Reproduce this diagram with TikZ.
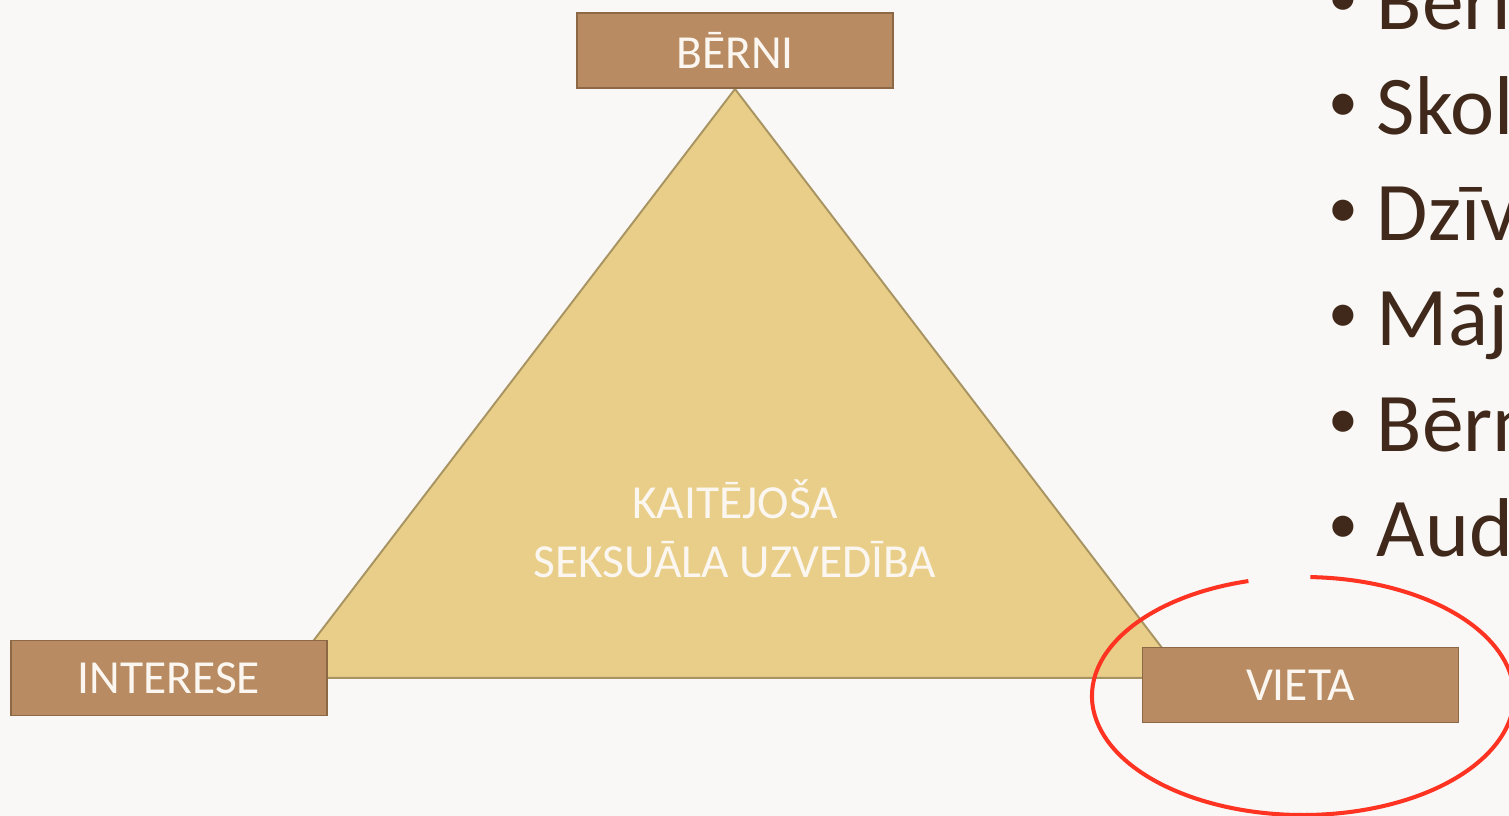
\documentclass[tikz,border=0pt]{standalone}
\usepackage{fontspec}
\setmainfont{Carlito}
\usetikzlibrary{calc,backgrounds}
\definecolor{pagebg}{RGB}{249,248,246}
\definecolor{boxbrown}{RGB}{184,139,98}
\definecolor{boxedge}{RGB}{140,104,68}
\definecolor{trifill}{RGB}{232,206,136}
\definecolor{triedge}{RGB}{168,148,98}
\definecolor{labelwhite}{RGB}{251,247,240}
\definecolor{listbrown}{RGB}{64,41,26}
\definecolor{ringred}{RGB}{255,51,34}

\begin{document}
\begin{tikzpicture}[
    box/.style={rectangle, draw=boxedge, line width=1.1pt, fill=boxbrown, minimum width=6.32cm, minimum height=1.5cm, inner sep=0pt, text=labelwhite, font=\fontsize{27}{32}\selectfont},
    tri/.style={draw=triedge, line width=1.1pt, fill=trifill},
    listline/.style={anchor=base west, inner sep=0pt, text=listbrown, font=\fontsize{47.5}{57}\selectfont},
    dot/.style={anchor=base, inner sep=0pt, text=listbrown, font=\fontsize{34}{40}\selectfont},
    hilite/.style={draw=ringred, line width=2.3pt}
]
    \useasboundingbox (0,0) rectangle (30.18,-16.32);
    \clip (0,0) rectangle (30.18,-16.32);

    \node[box] (brn) at (14.70,-1.01) {BĒRNI};
    \node[box] (intr) at (3.38,-13.56) {INTERESE};
    \node[box] (vt) at (26.01,-13.70) {VIETA};
    \node[align=center, text=labelwhite, font=\fontsize{27}{33.5}\selectfont] (kso) at (14.70,-10.57) {KAITĒJOŠA\\SEKSUĀLA UZVEDĪBA};

    \begin{pgfonlayer}{background}
        \fill[pagebg] (0,0) rectangle (30.18,-16.32);
        \draw[tri] (brn.south) -- ++(-9,-11.78) -- ++(18,0) -- cycle;
    \end{pgfonlayer}

    % list on the right, cut off by the page edge
    \foreach \word [count=\k from 0] in {Bērn,Skol,Dzīv,Māj,Bērn,Aud} {
        \node[listline] (w\k) at (27.53,{-0.59-2.11*\k}) {\word};
        \node[dot] (d\k) at (26.87,{-0.33-2.11*\k}) {•};
    }

    \coordinate (ringc) at ($(vt)+(0.05,-0.22)$);
    \draw[hilite] (ringc) ++(105:4.22cm and 2.38cm) arc[start angle=105, end angle=448, x radius=4.22cm, y radius=2.38cm];
\end{tikzpicture}
\end{document}
